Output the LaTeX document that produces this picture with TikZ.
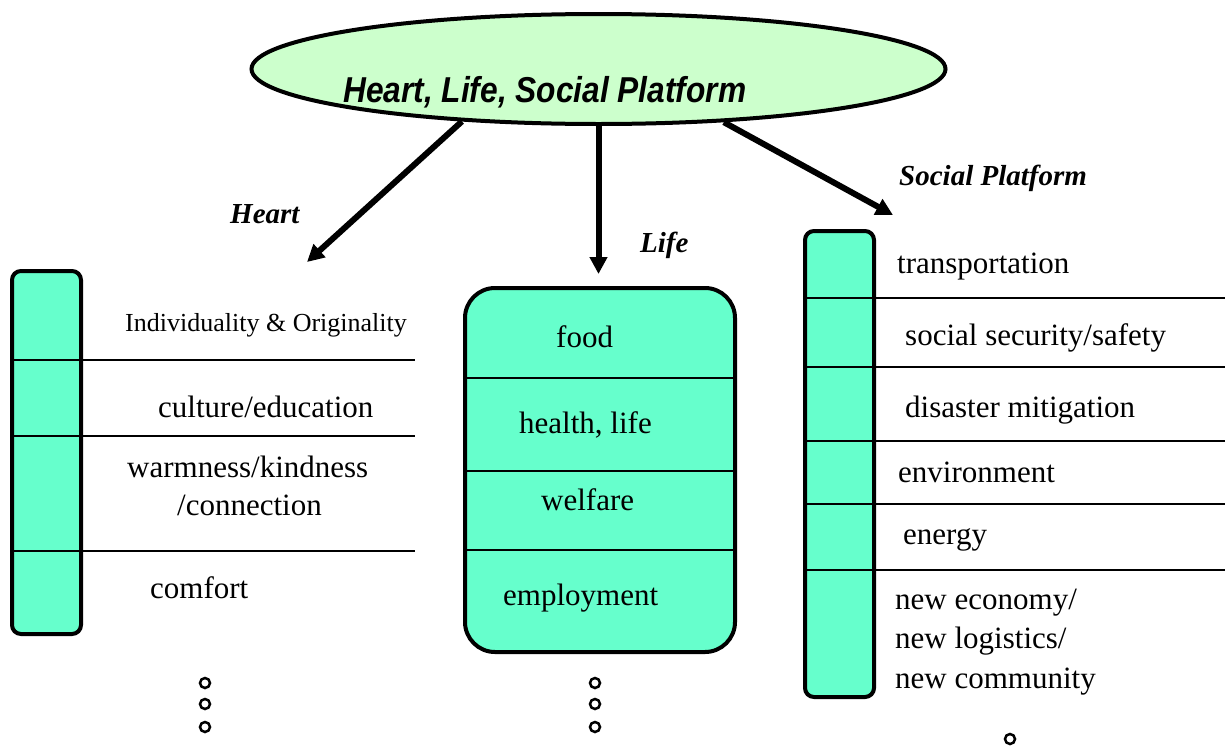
\documentclass[tikz,border=0pt]{standalone}
\usepackage{fontspec}
\usepackage{graphicx}
\setmainfont{Liberation Serif}
\newfontfamily\titlesans{Liberation Sans}
\usetikzlibrary{shapes.geometric,arrows.meta}
\definecolor{ellfill}{HTML}{CCFFCC}
\definecolor{barfill}{HTML}{66FFCC}
\begin{document}
\begin{tikzpicture}[x=1pt,y=-1pt,
  txt/.style={font=\fontsize{31}{37}\selectfont, inner sep=0, anchor=base west},
  smalltxt/.style={font=\fontsize{26}{31}\selectfont, inner sep=0, anchor=base west},
  cat/.style={font=\fontsize{29}{35}\selectfont\bfseries\itshape, inner sep=0, anchor=base west},
  bar/.style={draw, line width=4pt, fill=barfill, rounded corners=9pt, inner sep=0},
  divider/.style={line width=2.5pt},
  conn/.style={line width=6pt, -{Triangle[length=17pt,width=17pt]}},
  dotmark/.style={circle, draw, line width=2.5pt, minimum size=10pt, inner sep=0}]
\useasboundingbox (0,0) rectangle (1225,747);

% top ellipse
\node[ellipse, draw, line width=4pt, fill=ellfill, minimum width=694pt, minimum height=110pt, inner sep=0] (top) at (598.5,69) {};
\node[anchor=base west, inner sep=0, font=\titlesans\bfseries\itshape\fontsize{36}{40}\selectfont] (title) at (343,102) {\scalebox{0.88}[1]{Heart, Life, Social Platform}};

% arrow ends
\coordinate (hend) at (307,262);
\coordinate (lend) at (598.5,274);
\coordinate (send) at (893,215);
\draw[conn] (top.201.7) -- (hend);
\draw[conn] (top.south) -- (lend);
\draw[conn] (top.337.6) -- (send);

\node[cat] (lheart) at (230,223) {Heart};
\node[cat] (llife) at (640,252) {Life};
\node[cat] (lsocial) at (899,185) {Social Platform};

% left column
\node[bar, minimum width=69pt, minimum height=363pt] (lbar) at (46.5,452.5) {};
\draw[divider] (12,360) -- (415,360);
\draw[divider] (12,436) -- (415,436);
\draw[divider] (12,551) -- (415,551);
\node[smalltxt] (h1) at (125,331) {Individuality \& Originality};
\node[txt] (h2) at (158,417) {culture/education};
\node[txt] (h3a) at (127,477) {warmness/kindness};
\node[txt] (h3b) at (177,515) {/connection};
\node[txt] (h4) at (150,598) {comfort};

% center column
\node[bar, rounded corners=30pt, minimum width=270pt, minimum height=364pt] (cbox) at (600,470) {};
\draw[divider] (465,378) -- (735,378);
\draw[divider] (465,471) -- (735,471);
\draw[divider] (465,550) -- (735,550);
\node[txt] (l1) at (556,347) {food};
\node[txt] (l2) at (519,433) {health, life};
\node[txt] (l3) at (541,510) {welfare};
\node[txt] (l4) at (503,605) {employment};

% right column
\node[bar, minimum width=69pt, minimum height=466pt] (rbar) at (839.5,464) {};
\draw[divider] (805,298) -- (1225,298);
\draw[divider] (805,367) -- (1225,367);
\draw[divider] (805,441) -- (1225,441);
\draw[divider] (805,504) -- (1225,504);
\draw[divider] (805,570) -- (1225,570);
\node[txt] (s1) at (897,273) {transportation};
\node[txt] (s2) at (905,345) {social security/safety};
\node[txt] (s3) at (905,417) {disaster mitigation};
\node[txt] (s4) at (898,482) {environment};
\node[txt] (s5) at (903,544) {energy};
\node[txt] (s6a) at (895,609) {new economy/};
\node[txt] (s6b) at (895,648) {new logistics/};
\node[txt] (s6c) at (895,688) {new community};

% continuation dots
\node[dotmark] (d1) at (205,683) {};
\node[dotmark] (d2) at (205,704) {};
\node[dotmark] (d3) at (205,727) {};
\node[dotmark] (d4) at (595,683) {};
\node[dotmark] (d5) at (595,704) {};
\node[dotmark] (d6) at (595,727) {};
\node[dotmark] (d7) at (1010,739) {};
\end{tikzpicture}
\end{document}
